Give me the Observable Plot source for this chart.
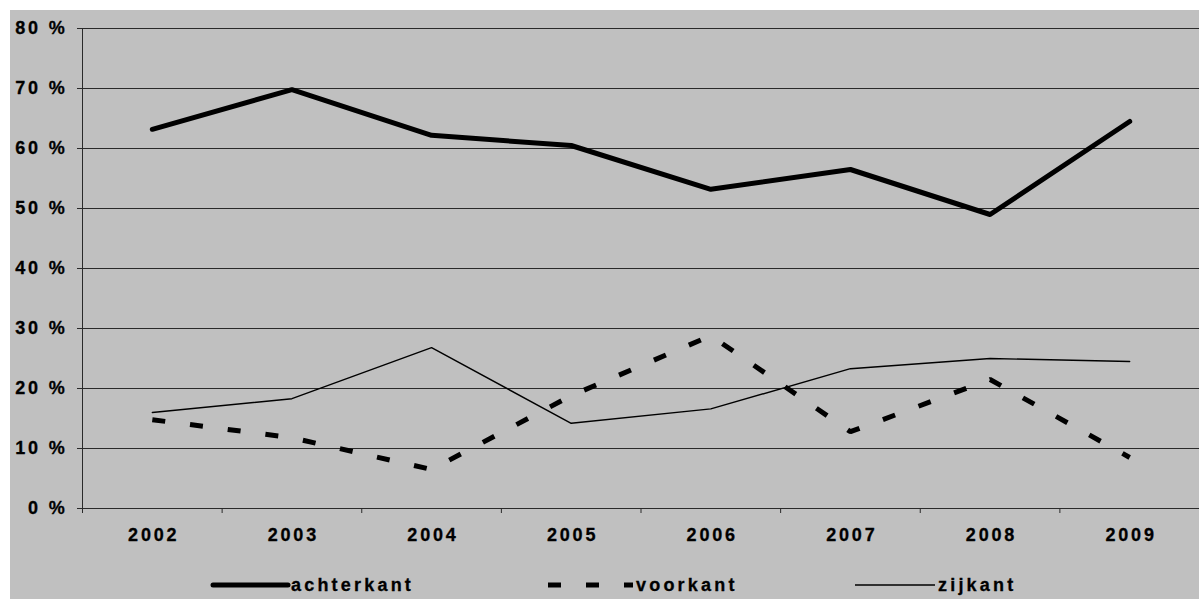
<!DOCTYPE html>
<html>
<head>
<meta charset="utf-8">
<script src="https://cdn.jsdelivr.net/npm/d3@7"></script>
<script src="https://cdn.jsdelivr.net/npm/@observablehq/plot@0.6"></script>
<style>
  html, body { margin: 0; padding: 0; background: #ffffff; }
  #frame { position: absolute; left: 10px; top: 10px; width: 1189px; height: 589px; background: #c0c0c0; overflow: hidden;
           font-family: Arial, "Liberation Sans", sans-serif; font-weight: 700; }
  #chart svg { display: block; }
  #legend { position: absolute; left: 0; top: 562px; width: 1189px; height: 26px; }
  .item { position: absolute; top: 0; height: 26px; display: flex; align-items: center; }
  .item span { font-size: 18px; font-weight: 700; letter-spacing: 3.2px; color: #000; -webkit-text-stroke: 0.3px #000; }
  .item svg { display: block; }
</style>
</head>
<body>
<div id="frame">
  <div id="chart"></div>
  <div id="legend"></div>
</div>
<script>
const years = [2002, 2003, 2004, 2005, 2006, 2007, 2008, 2009];
const achterkant = [63.2, 69.8, 62.2, 60.5, 53.2, 56.5, 49.0, 64.5];
const voorkant   = [14.8, 11.8, 6.5, 18.8, 28.8, 12.8, 21.5, 8.5];
const zijkant    = [16.0, 18.3, 26.8, 14.2, 16.6, 23.3, 25.0, 24.5];
const seriesNames = ["achterkant", "voorkant", "zijkant"];
const yTicks = [0, 10, 20, 30, 40, 50, 60, 70, 80];

const toRows = (vals, name) => years.map((y, i) => ({year: y, value: vals[i], series: name}));
const rowsA = toRows(achterkant, seriesNames[0]);
const rowsV = toRows(voorkant, seriesNames[1]);
const rowsZ = toRows(zijkant, seriesNames[2]);
const boundaries = years.map(y => y - 0.5).concat([years[years.length - 1] + 0.5]);

const styleA = {stroke: "#000", strokeWidth: 5, strokeLinejoin: "round", strokeLinecap: "round"};
const styleV = {stroke: "#000", strokeWidth: 5, strokeDasharray: "13,25", strokeLinejoin: "miter", strokeLinecap: "butt"};
const styleZ = {stroke: "#000", strokeWidth: 1.4, strokeLinejoin: "miter"};

const fontOpts = {fontSize: 18, fontWeight: "bold", fill: "#000", textStroke: "#000", textStrokeWidth: 0.3, textStrokeOpacity: 1};

const chart = Plot.plot({
  width: 1189,
  height: 548,
  marginTop: 18,
  marginLeft: 72,
  marginRight: 0,
  marginBottom: 50,
  style: {background: "transparent", fontFamily: "Arial, 'Liberation Sans', sans-serif", fontSize: "18px", fontWeight: "bold", letterSpacing: "2.8px", color: "#000"},
  x: {type: "linear", domain: [years[0] - 0.5, years[years.length - 1] + 0.5]},
  y: {domain: [0, 80]},
  marks: [
    Plot.gridY(yTicks, {stroke: "#2a2a2a", strokeOpacity: 1, strokeWidth: 1}),
    Plot.ruleY([0], {stroke: "#2a2a2a", strokeWidth: 1}),
    Plot.ruleX([boundaries[0]], {stroke: "#2a2a2a", strokeWidth: 1}),
    Plot.axisY({ticks: yTicks, tickFormat: d => d + " %", tickSize: 5, tickPadding: 10, label: null, stroke: "#2a2a2a", ...fontOpts}),
    Plot.axisX({ticks: boundaries, tickFormat: () => "", tickSize: 5, label: null, stroke: "#2a2a2a"}),
    Plot.axisX({ticks: years, tickFormat: d => String(d), tickSize: 0, tickPadding: 20, label: null, dx: 1.4, ...fontOpts}),
    Plot.line(rowsZ, {x: "year", y: "value", ...styleZ}),
    Plot.line(rowsV, {x: "year", y: "value", ...styleV}),
    Plot.line(rowsA, {x: "year", y: "value", ...styleA})
  ]
});
document.getElementById("chart").appendChild(chart);

// Legend (HTML)
const legendSpec = [
  {name: seriesNames[0], left: 200, w: 78, style: styleA},
  {name: seriesNames[1], left: 538, w: 85, style: styleV},
  {name: seriesNames[2], left: 845, w: 80, style: styleZ}
];
const legend = document.getElementById("legend");
for (const s of legendSpec) {
  const div = document.createElement("div");
  div.className = "item";
  div.style.left = s.left + "px";
  const sw = d3.create("svg").attr("width", s.w + 3).attr("height", 26);
  const st = s.style;
  sw.append("line").attr("x1", st.strokeLinecap === "round" ? 3 : 0).attr("x2", s.w).attr("y1", 13).attr("y2", 13)
    .attr("stroke", st.stroke).attr("stroke-width", st.strokeWidth)
    .attr("stroke-dasharray", st.strokeDasharray || null)
    .attr("stroke-linecap", st.strokeLinecap || "butt");
  div.appendChild(sw.node());
  const sp = document.createElement("span");
  sp.textContent = s.name;
  div.appendChild(sp);
  legend.appendChild(div);
}
</script>
</body>
</html>
